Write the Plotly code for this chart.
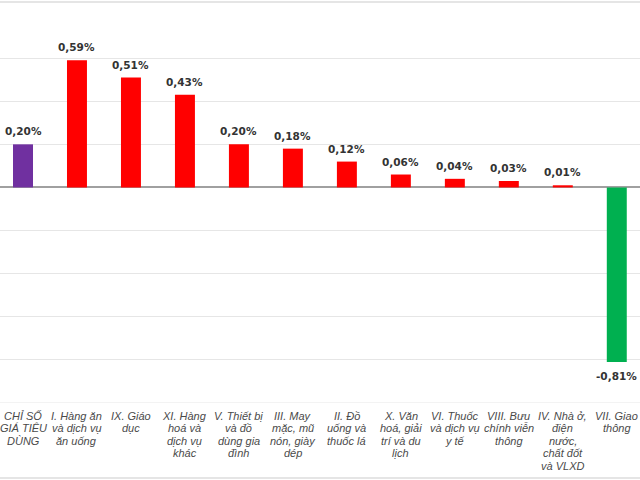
import plotly.graph_objects as go

categories = [
    "CHỈ SỐ<br>GIÁ TIÊU<br>DÙNG",
    "I. Hàng ăn<br>và dịch vụ<br>ăn uống",
    "IX. Giáo<br>dục",
    "XI. Hàng<br>hoá và<br>dịch vụ<br>khác",
    "V. Thiết bị<br>và đồ<br>dùng gia<br>đình",
    "III. May<br>mặc, mũ<br>nón, giày<br>dép",
    "II. Đồ<br>uống và<br>thuốc lá",
    "X. Văn<br>hoá, giải<br>trí và du<br>lịch",
    "VI. Thuốc<br>và dịch vụ<br>y tế",
    "VIII. Bưu<br>chính viễn<br>thông",
    "IV. Nhà ở,<br>điện<br>nước,<br>chất đốt<br>và VLXD",
    "VII. Giao<br>thông",
]
values = [0.20, 0.59, 0.51, 0.43, 0.20, 0.18, 0.12, 0.06, 0.04, 0.03, 0.01, -0.81]
colors = ["#7030A0"] + ["#FF0000"] * 10 + ["#00B050"]
labels = [f"{v:.2f}%".replace(".", ",") for v in values]

x = list(range(len(categories)))

fig = go.Figure(go.Bar(
    x=x, y=values, width=0.37,
    marker=dict(color=colors, line=dict(width=0)),
    cliponaxis=False, hoverinfo="skip",
))

annotations = []
for i, (v, lab) in enumerate(zip(values, labels)):
    annotations.append(dict(
        x=i, y=v, xref="x", yref="y", text=lab, showarrow=False,
        xanchor="center", yanchor="bottom" if v >= 0 else "top",
        yshift=5 if v >= 0 else -6,
        font=dict(family="DejaVu Sans", size=10.5, color="#333333", weight="bold"),
    ))
for i, cat in enumerate(categories):
    for j, line in enumerate(cat.split("<br>")):
        annotations.append(dict(
            x=i, xref="x", y=0, yref="paper", yanchor="middle", xanchor="center",
            yshift=-(12.5 + 12.5 * j), text=line, showarrow=False,
            font=dict(family="Liberation Sans", size=11, color="#4A4A4A", style="italic"),
        ))

fig.update_layout(
    width=640, height=480,
    margin=dict(l=0, r=0, t=15, b=77, autoexpand=False),
    paper_bgcolor="white", plot_bgcolor="white",
    showlegend=False,
    xaxis=dict(
        range=[-0.426, 11.43], showticklabels=False, ticks="",
        showgrid=False, zeroline=False, showline=False, automargin=False,
    ),
    yaxis=dict(
        range=[-1.0, 0.8], dtick=0.2, showticklabels=False, automargin=False,
        gridcolor="#E6E6E6", gridwidth=1,
        zeroline=True, zerolinecolor="#A0A0A0", zerolinewidth=1.5,
    ),
    annotations=annotations,
    shapes=[
        dict(type="line", xref="paper", yref="paper", x0=0, x1=1, y0=1 + 13/388, y1=1 + 13/388,
             line=dict(color="#DDDDDD", width=1.5), layer="above"),
        dict(type="line", xref="paper", yref="paper", x0=0, x1=1, y0=-75/388, y1=-75/388,
             line=dict(color="#DDDDDD", width=1.5), layer="above"),
        dict(type="line", xref="paper", yref="y", x0=0, x1=1, y0=-1.0, y1=-1.0,
             line=dict(color="#E6E6E6", width=1)),
    ],
)

fig.write_html("out.html", config={"displayModeBar": False},
               post_script="document.body.style.margin='0';")
